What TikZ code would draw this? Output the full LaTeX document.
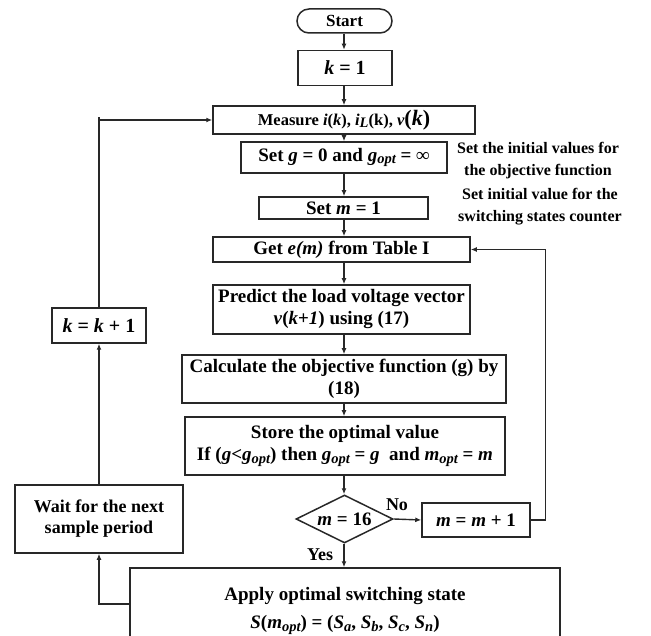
\documentclass[tikz,border=0pt]{standalone}
\usepackage{fontspec}
\setmainfont{Liberation Serif}
\usetikzlibrary{arrows.meta,shapes.geometric}
\definecolor{linec}{RGB}{40,40,40}
% lowered, smaller italic index (g_opt, S_a, ...)
\newcommand{\lowsub}[1]{\raisebox{-0.15em}{\fontsize{14.5}{14.5}\selectfont\itshape #1}}
\begin{document}
\begin{tikzpicture}[x=1pt,y=-1pt,
  box/.style={draw=linec, line width=1.5pt, rectangle, inner sep=0pt, align=center,
    font=\fontsize{19}{22}\selectfont\bfseries},
  flow/.style={draw=linec, line width=1.4pt, -{Latex[length=6pt,width=5pt]}},
  plain/.style={draw=linec, line width=1.4pt},
  note/.style={inner sep=0pt, align=center, font=\fontsize{16}{22}\selectfont\bfseries},
  lbl/.style={inner sep=0pt, font=\fontsize{18}{20}\selectfont\bfseries}]
\clip (0,0) rectangle (651,636);
\useasboundingbox (0,0) rectangle (651,636);
\coordinate (ax) at (344,0);

% main column
\node[box, rounded corners=12pt, minimum width=95pt, minimum height=24pt,
  font=\fontsize{17}{20}\selectfont\bfseries] (start) at (344.5,21) {Start};
\node[box, minimum width=94pt, minimum height=35pt,
  font=\fontsize{20}{22}\selectfont\bfseries] (k1) at (345,68) {\textit{k} = 1};
\node[box, minimum width=262pt, minimum height=28pt,
  font=\fontsize{16.5}{20}\selectfont\bfseries] (meas) at (344,120)
  {Measure \textit{i}(\textit{k}), \textit{i}\lowsub{L}(k),
   \textit{v}{\fontsize{22}{22}\selectfont(\textit{k})}};
\node[box, minimum width=206pt, minimum height=31pt] (setg) at (344,157.5)
  {Set \textit{g} = 0 and \textit{g}\lowsub{opt} = ∞};
\node[box, minimum width=169pt, minimum height=22pt] (setm) at (343.5,208)
  {Set \textit{m} = 1};
\node[box, minimum width=257pt, minimum height=25pt] (get) at (341.5,249.5)
  {Get \textit{e(m)} from Table I};
\node[box, minimum width=257pt, minimum height=49pt] (pred) at (341.5,309.5)
  {Predict the load voltage vector\\\textit{v}(\textit{k}+\textit{1}) using (17)};
\node[box, minimum width=324pt, minimum height=48pt] (calc) at (344,379)
  {Calculate the objective function (g) by\\(18)};
\node[box, minimum width=320pt, minimum height=58pt] (store) at (345,446)
  {Store the optimal value\\If (\textit{g}<\textit{g}\lowsub{opt}) then
   \textit{g}\lowsub{opt} = \textit{g}\ \ and \textit{m}\lowsub{opt} = \textit{m}};
\node[box, shape=diamond, aspect=2, minimum width=97pt, minimum height=48pt]
  (dec) at (344.5,519) {\textit{m} = 16};
\node[box, minimum width=108pt, minimum height=34pt] (mm1) at (476,520)
  {\textit{m} = \textit{m} + 1};
\node[box, minimum width=430pt, minimum height=72pt] (apply) at (345,604) {};
\node[inner sep=0pt, align=center, font=\fontsize{19}{28}\selectfont\bfseries]
  (applytxt) at (345,611)
  {Apply optimal switching state\\\textit{S}(\textit{m}\lowsub{opt}) =
   (\textit{S}\lowsub{a}, \textit{S}\lowsub{b}, \textit{S}\lowsub{c}, \textit{S}\lowsub{n})};

% left column
\node[box, minimum width=168pt, minimum height=68pt,
  font=\fontsize{18}{21}\selectfont\bfseries] (wait) at (99,519)
  {Wait for the next\\sample period};
\node[box, minimum width=94pt, minimum height=35pt,
  font=\fontsize{20}{22}\selectfont\bfseries] (kk1) at (99,325.5)
  {\textit{k} = \textit{k} + 1};

% side notes
\node[note] (note1) at (538,161) {Set the initial values for\\the objective function};
\node[note] (note2) at (540,207) {Set initial value for the\\switching states counter};

% decision labels
\node[lbl] (lno) at (397,505) {No};
\node[lbl] (lyes) at (320,555) {Yes};

% vertical flow
\draw[flow] (start.south -| ax) -- (k1.north -| ax);
\draw[flow] (k1.south -| ax) -- (meas.north -| ax);
\draw[flow] (meas.south -| ax) -- (setg.north -| ax);
\draw[flow] (setg.south -| ax) -- (setm.north -| ax);
\draw[flow] (setm.south -| ax) -- (get.north -| ax);
\draw[flow] (get.south -| ax) -- (pred.north -| ax);
\draw[flow] (pred.south -| ax) -- (calc.north -| ax);
\draw[flow] (calc.south -| ax) -- (store.north -| ax);
\draw[flow] (store.south -| ax) -- (dec.north -| ax);
\draw[flow] (dec.south -| ax) -- (apply.north -| ax);

% counter loop
\draw[flow] (dec.east) -- (mm1.west);
\draw[flow] (mm1.east) -- ++(15,0) |- (get.east);

% sampling loop
\coordinate (looptop) at (99,117);
\draw[flow] (apply.west) -| (wait.south);
\draw[flow] (wait.north) -- (kk1.south);
\draw[plain] (kk1.north) -- (looptop);
\draw[flow] (looptop |- meas.west) -- (meas.west);
\end{tikzpicture}
\end{document}
